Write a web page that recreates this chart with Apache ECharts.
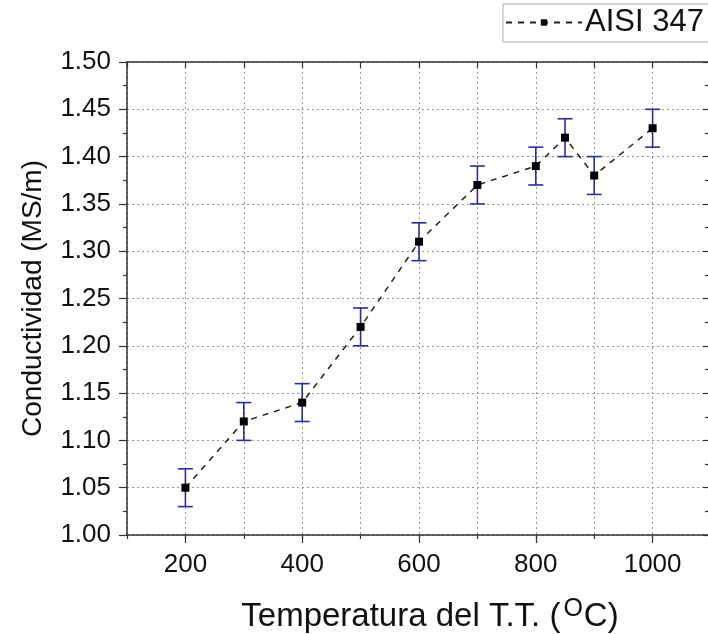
<!DOCTYPE html>
<html>
<head>
<meta charset="utf-8">
<script src="https://cdn.jsdelivr.net/npm/echarts@6/dist/echarts.min.js"></script>
<style>
  html, body { margin: 0; padding: 0; background: #fff; }
  #chart { width: 708px; height: 634px; }
</style>
</head>
<body>
<div id="chart"></div>
<script>
// temperature of heat treatment (°C) and conductivity (MS/m)
const temps = [200, 300, 400, 500, 600, 700, 800, 850, 900, 1000];
const cond = [1.05, 1.12, 1.14, 1.22, 1.31, 1.37, 1.39, 1.42, 1.38, 1.43];
const errs = [0.02, 0.02, 0.02, 0.02, 0.02, 0.02, 0.02, 0.02, 0.02, 0.02];
const xMajor = [200, 400, 600, 800, 1000];

const font = "'Liberation Sans', Arial, sans-serif";
const chart = echarts.init(document.getElementById("chart"));

const lineData = temps.map((t, i) => [t, cond[i]]);
const errData = temps.map((t, i) => [t, cond[i] - errs[i], cond[i] + errs[i]]);

const axisLine = { show: true, lineStyle: { color: "#333", width: 1.5 } };

const option = {
  animation: false,
  backgroundColor: "#fff",
  grid: { left: 127, right: -3, top: 62, bottom: 99, outerBoundsMode: "none", containLabel: false },
  legend: {
    left: 503,
    top: 4,
    padding: [3, 40, 4, 2],
    borderColor: "#aaa",
    borderWidth: 1,
    itemWidth: 76,
    itemHeight: 8,
    itemGap: 0,
    data: ["AISI 347"],
    textStyle: { fontFamily: font, fontSize: 31, color: "#111", padding: [0, 0, 0, -2] }
  },
  xAxis: [
    {
      type: "value", min: 100, max: 1100, interval: 100,
      position: "bottom",
      axisLine: axisLine,
      axisTick: { show: true, length: 4, lineStyle: { color: "#333", width: 1.2 } },
      axisLabel: {
        fontFamily: font, fontSize: 26, color: "#111", margin: 17,
        formatter: v => (xMajor.indexOf(v) >= 0 ? String(v) : "")
      },
      splitLine: { show: true, lineStyle: { color: "#999", type: [2, 3], width: 1 } },
      name: "Temperatura del T.T. ({sup|O}C)",
      nameLocation: "middle",
      nameGap: 62,
      nameTextStyle: {
        fontFamily: font, fontSize: 33, color: "#111", padding: [0, 0, 0, 22],
        rich: { sup: { fontFamily: font, fontSize: 25, color: "#111", verticalAlign: "top", padding: [0, 1, 14, 3] } }
      }
    },
    {
      type: "value", min: 100, max: 1100, interval: 100,
      position: "bottom",
      axisLine: { show: false },
      axisTick: { show: true, length: 8, customValues: xMajor, lineStyle: { color: "#333", width: 1.2 } },
      axisLabel: { show: false },
      splitLine: { show: false }
    },
    {
      type: "value", min: 100, max: 1100, interval: 100,
      position: "top",
      axisLine: axisLine,
      axisTick: { show: true, inside: true, length: 6, lineStyle: { color: "#333", width: 1.2 } },
      axisLabel: { show: false },
      splitLine: { show: false }
    }
  ],
  yAxis: [
    {
      type: "value", min: 1.0, max: 1.5, interval: 0.05,
      position: "left",
      axisLine: axisLine,
      axisTick: { show: true, length: 8, lineStyle: { color: "#333", width: 1.2 } },
      minorTick: { show: true, splitNumber: 2, length: 4, lineStyle: { color: "#333", width: 1.2 } },
      axisLabel: { fontFamily: font, fontSize: 26, color: "#111", margin: 16, formatter: v => v.toFixed(2) },
      splitLine: { show: true, lineStyle: { color: "#999", type: [2, 3], width: 1 } },
      name: "Conductividad (MS/m)",
      nameLocation: "middle",
      nameGap: 80,
      nameTextStyle: { fontFamily: font, fontSize: 28, color: "#111" }
    },
    {
      type: "value", min: 1.0, max: 1.5, interval: 0.05,
      position: "right",
      axisLine: axisLine,
      axisTick: { show: true, inside: true, length: 8, lineStyle: { color: "#333", width: 1.2 } },
      minorTick: { show: true, splitNumber: 2, length: 6, lineStyle: { color: "#333", width: 1.2 } },
      axisLabel: { show: false },
      splitLine: { show: false }
    }
  ],
  series: [
    {
      type: "custom",
      name: "err",
      xAxisIndex: 0,
      yAxisIndex: 0,
      data: errData,
      z: 3,
      renderItem: function (params, api) {
        const lo = api.coord([api.value(0), api.value(1)]);
        const hi = api.coord([api.value(0), api.value(2)]);
        const hw = 7.5;
        const style = { stroke: "#2b2ba0", lineWidth: 1.6 };
        return {
          type: "group",
          children: [
            { type: "line", shape: { x1: lo[0], y1: lo[1], x2: hi[0], y2: hi[1] }, style: style },
            { type: "line", shape: { x1: lo[0] - hw, y1: lo[1], x2: lo[0] + hw, y2: lo[1] }, style: style },
            { type: "line", shape: { x1: hi[0] - hw, y1: hi[1], x2: hi[0] + hw, y2: hi[1] }, style: style }
          ]
        };
      }
    },
    {
      type: "line",
      name: "AISI 347",
      xAxisIndex: 0,
      yAxisIndex: 0,
      data: lineData,
      z: 4,
      symbol: "rect",
      symbolSize: 8,
      itemStyle: { color: "#000" },
      lineStyle: { color: "#222", width: 1.5, type: [6, 6] }
    }
  ]
};

option && chart.setOption(option);
</script>
</body>
</html>
